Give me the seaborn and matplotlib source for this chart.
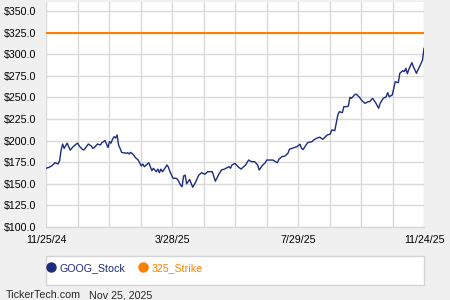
import numpy as np
import pandas as pd
import matplotlib
matplotlib.use("Agg")
import matplotlib.pyplot as plt
import seaborn as sns
from matplotlib.lines import Line2D
from matplotlib.patches import Rectangle

# ---- data (trading-day index since 11/25/24, closing price) ----
day = [0, 2, 4, 6, 8, 9, 10, 11, 12, 14, 15, 16, 18, 20, 21, 22, 24, 25, 27, 28,
       30, 31, 32, 34, 36, 37, 39, 41, 42, 43, 44, 45, 46, 47, 48, 49, 50, 51, 53, 54,
       55, 56, 58, 59, 61, 63, 64, 65, 67, 68, 69, 70, 71, 73, 74, 75, 76, 77, 78, 80,
       81, 82, 84, 86, 87, 89, 90, 91, 92, 93, 95, 97, 99, 101, 103, 105, 107, 110, 112, 114,
       116, 118, 121, 122, 123, 125, 127, 129, 132, 134, 136, 138, 140, 141, 143, 145, 146, 148, 150, 153,
       154, 156, 158, 160, 161, 164, 166, 168, 169, 170, 172, 173, 176, 177, 179, 181, 183, 186, 188, 189,
       191, 193, 194, 196, 197, 199, 200, 201, 202, 204, 205, 207, 209, 211, 213, 214, 216, 218, 220, 221,
       223, 225, 226, 227, 229, 230, 231, 233, 234, 236, 237, 238, 239, 240, 242, 243, 245, 246, 247, 248,
       249, 250]
price = [168.0, 169.0, 171.0, 174.4, 173.0, 176.7, 189.0, 196.0, 191.0, 197.0, 193.0, 189.0, 193.0, 196.0, 197.0, 193.7, 190.0, 189.0, 193.7, 196.0,
         193.7, 191.0, 192.0, 196.0, 195.0, 197.6, 200.0, 192.0, 198.8, 197.0, 201.5, 204.5, 203.0, 206.5, 195.0, 191.0, 186.4, 186.0, 185.3, 186.0,
         184.5, 186.4, 183.3, 180.6, 177.5, 170.6, 172.9, 169.8, 172.9, 174.4, 169.8, 165.2, 167.9, 164.0, 167.0, 162.9, 167.0, 164.0, 166.2, 171.8,
         169.1, 164.0, 156.4, 156.4, 155.2, 148.6, 146.6, 159.0, 160.0, 150.0, 155.0, 146.0, 152.0, 160.0, 162.9, 161.0, 164.0, 164.0, 153.0, 160.0,
         166.0, 167.0, 169.8, 168.0, 171.8, 173.7, 169.8, 167.0, 171.8, 177.5, 175.6, 175.6, 171.8, 166.0, 171.0, 174.4, 177.5, 177.5, 177.5, 174.4,
         178.3, 181.4, 182.1, 185.3, 190.0, 191.8, 193.0, 195.7, 191.0, 189.6, 195.0, 197.6, 198.8, 200.7, 202.7, 204.0, 201.5, 206.5, 207.6, 212.3,
         211.5, 229.6, 233.5, 232.3, 239.3, 239.3, 240.0, 250.1, 248.9, 252.8, 253.9, 250.8, 246.2, 243.1, 245.0, 245.0, 248.9, 243.9, 237.4, 243.1,
         248.9, 250.8, 255.4, 250.8, 252.8, 260.5, 268.2, 267.0, 277.9, 280.9, 279.8, 283.7, 277.4, 282.6, 290.2, 285.5, 277.9, 281.7, 285.5, 289.4,
         293.0, 307.0]
strike = 325.0
series_names = ["GOOG_Stock", "325_Strike"]
x_tick_labels = ["11/25/24", "3/28/25", "7/29/25", "11/24/25"]
y_ticks = [100, 125, 150, 175, 200, 225, 250, 275, 300, 325, 350]
footer_site = "TickerTech.com"
footer_date = "Nov 25, 2025"

NAVY = "#1c2d7c"
ORANGE = "#ff8000"
GRID = "#d9d9d9"
BG = "#f0f0f0"

sns.set_theme(style="white")
plt.rcParams["font.family"] = ["Liberation Sans", "DejaVu Sans"]

fig = plt.figure(figsize=(4.5, 3), dpi=100, facecolor=BG)
ax = fig.add_axes([46 / 450, 73 / 300, 378 / 450, 225 / 300])
ax.set_facecolor("white")

df = pd.DataFrame({"day": day, "price": price})
sns.lineplot(data=df, x="day", y="price", ax=ax, color=NAVY, linewidth=1.0)
ax.axhline(strike, color=ORANGE, linewidth=1.5, zorder=3)

n_days = day[-1]
ax.set_xlim(0, n_days)
ax.set_ylim(100, 360.4)

xmajor = np.linspace(0, n_days, 13)
ax.set_xticks(xmajor)
labels = [""] * 13
for i, lab in zip([0, 4, 8, 12], x_tick_labels):
    labels[i] = lab
ax.set_xticklabels(labels)
ax.set_xticks((xmajor[:-1] + xmajor[1:]) / 2, minor=True)

ax.set_yticks(y_ticks)
ax.set_yticklabels([f"${v:.1f}" for v in y_ticks])
ax.set_yticks([v + 12.5 for v in y_ticks[:-1]], minor=True)

ax.grid(True, which="major", color=GRID, linewidth=1.0)
ax.tick_params(axis="both", which="major", length=0, labelsize=7.7, colors="black")
ax.tick_params(axis="x", which="major", pad=6)
ax.tick_params(axis="y", which="major", pad=7)
ax.tick_params(axis="both", which="minor", direction="in", length=2.5, width=0.8, color=GRID)
ax.set_xlabel("")
ax.set_ylabel("")
for s in ["top", "right", "left"]:
    ax.spines[s].set_visible(False)
ax.spines["bottom"].set_color(GRID)
ax.spines["bottom"].set_linewidth(1.0)

# legend box
fig.patches.append(Rectangle((46 / 450, 15 / 300), 378 / 450, 29 / 300,
                             transform=fig.transFigure, facecolor="white",
                             edgecolor="#d4d4d4", linewidth=1.0, zorder=0))
handles = [Line2D([], [], linestyle="none", marker="o", markersize=6.5, color=NAVY),
           Line2D([], [], linestyle="none", marker="o", markersize=6.5, color=ORANGE)]
leg = fig.legend(handles, series_names, loc="center left",
                 bbox_to_anchor=(47 / 450, 1 - 268 / 300), ncol=2, frameon=False,
                 fontsize=7.7, handlelength=0.8, handletextpad=0.4, columnspacing=1.2,
                 borderaxespad=0, borderpad=0)
for t, c in zip(leg.get_texts(), [NAVY, ORANGE]):
    t.set_color(c)

fig.text(6 / 450, 1 - 295 / 300, footer_site, fontsize=7.7, va="center", ha="left")
fig.text(89 / 450, 1 - 295 / 300, footer_date, fontsize=7.7, va="center", ha="left")

fig.savefig("out.png", dpi=100, facecolor=BG)
